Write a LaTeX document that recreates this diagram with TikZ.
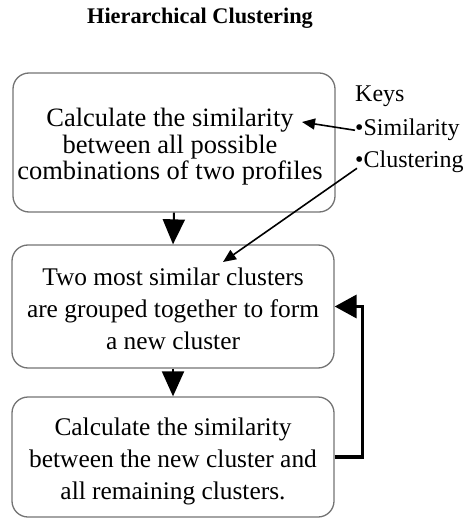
\documentclass[tikz,border=0pt]{standalone}
\usepackage{fontspec}
\setmainfont{Liberation Serif}
\usetikzlibrary{arrows.meta}
\begin{document}
\begin{tikzpicture}[x=1pt,y=-1pt,
  box/.style={draw=black!55, line width=1.3pt, rounded corners=16pt,
    minimum width=322pt, inner sep=0pt},
  boxtxt/.style={font=\fontsize{25.4}{32}\selectfont, align=center, inner sep=0pt},
  keytxt/.style={font=\fontsize{24}{24}\selectfont, inner sep=0pt, anchor=base west},
  downarr/.style={line width=2pt, -{Triangle[length=25pt,width=22pt]}},
  keyarr/.style={line width=1.6pt, -{Triangle[length=13pt,width=11pt]}},
  looparr/.style={line width=3.5pt, -{Triangle[length=22pt,width=23pt]}}]
\useasboundingbox (0,0) rectangle (471,518);
\node[font=\fontsize{22.3}{26}\selectfont\bfseries] (title) at (200,18) {Hierarchical Clustering};
\node[box, minimum height=139pt] (b1) at (174,142.5) {};
\node[box, minimum height=123pt] (b2) at (173,306.5) {};
\node[box, minimum height=120pt] (b3) at (173,457) {};
\node[boxtxt, font=\fontsize{26.5}{26.5}\selectfont] (t1) at (170,147)
  {Calculate the similarity\\between all possible\\combinations of two profiles};
\node[boxtxt] (t2) at (173,309)
  {Two most similar clusters\\are grouped together to form\\a new cluster};
\node[boxtxt] (t3) at (173,461)
  {Calculate the similarity\\between the new cluster and\\all remaining clusters.};
\node[keytxt] (keys) at (355,102) {Keys};
\node[keytxt] (sim) at (355,136) {•Similarity};
\node[keytxt] (clu) at (355,168) {•Clustering};
\coordinate (simTip) at (302,122);
\coordinate (cluTip) at (223,262);
\draw[downarr] (b1.south) -- (b2.north);
\draw[downarr] (b2.south) -- (b3.north);
\draw[looparr] (b3.east) -- ++(28,0) |- (b2.east);
\draw[keyarr] (sim.west) -- (simTip);
\draw[keyarr] ([shift={(2,6)}]clu.west) -- (cluTip);
\end{tikzpicture}
\end{document}
